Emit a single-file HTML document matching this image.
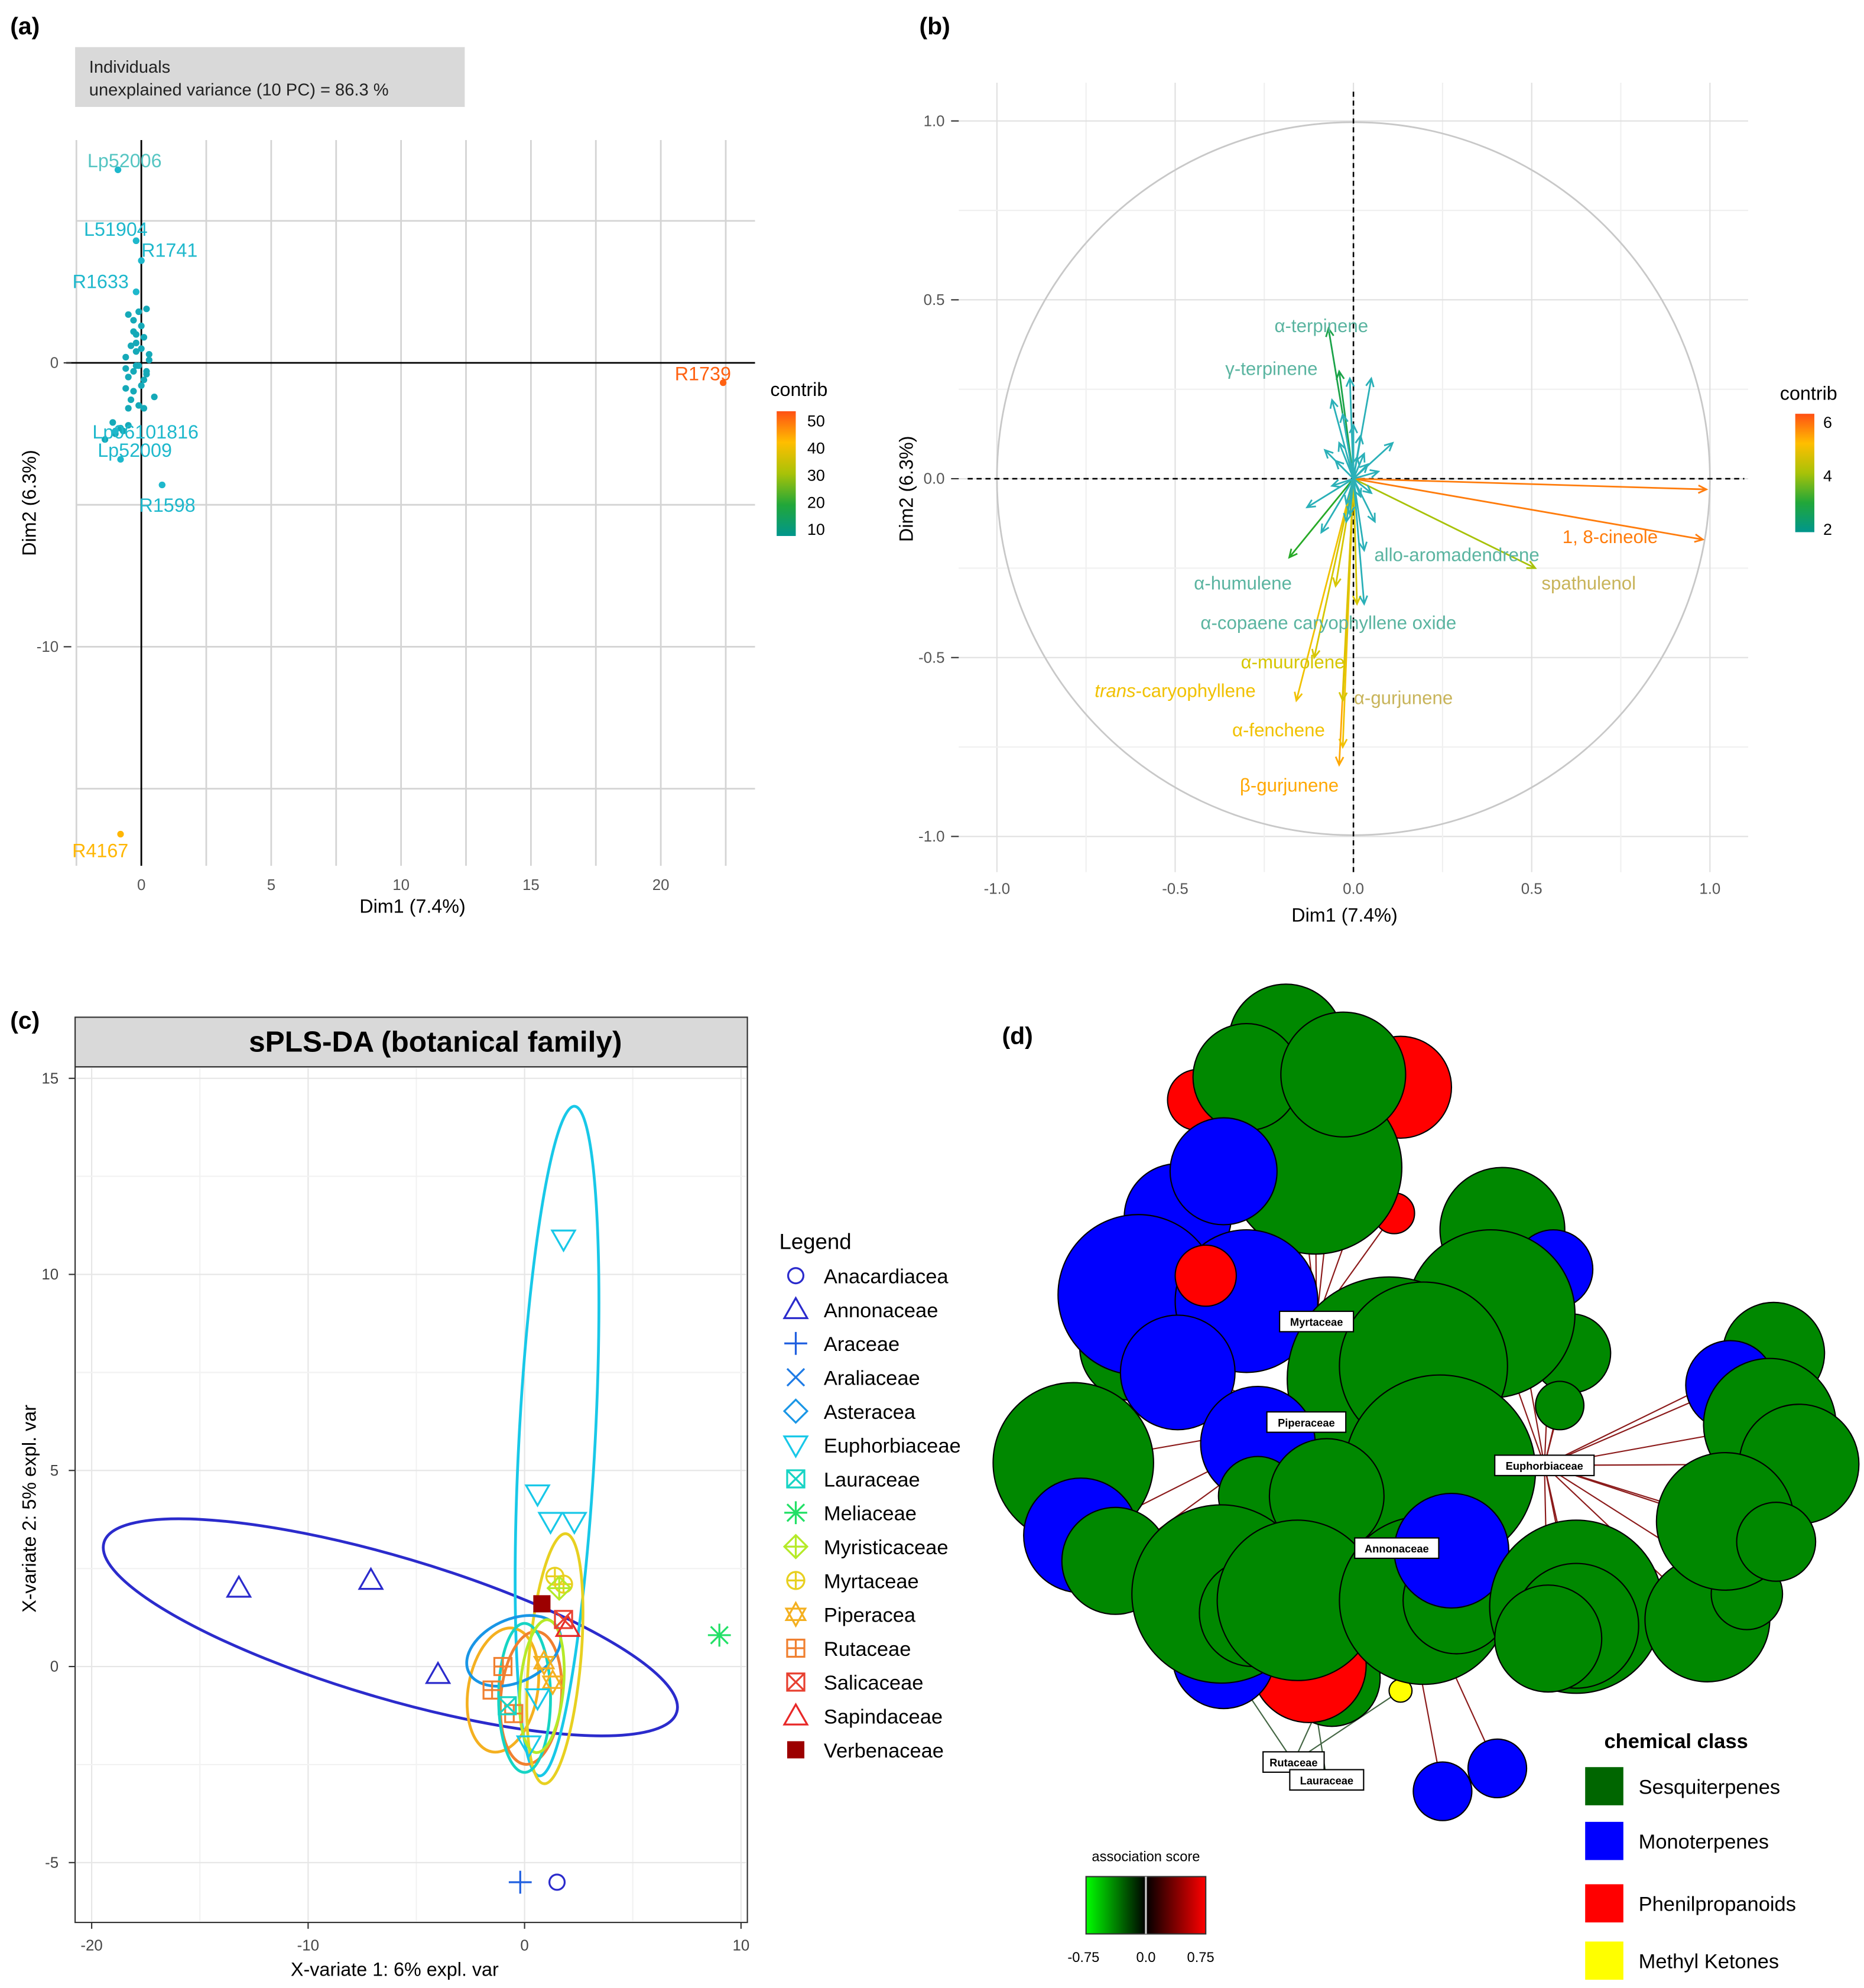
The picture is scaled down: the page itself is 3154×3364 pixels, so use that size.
<!DOCTYPE html>
<html><head><meta charset="utf-8">
<style>
html,body{margin:0;padding:0;background:#fff;}
svg{display:block;font-family:"Liberation Sans",Arial,sans-serif;}
</style></head>
<body>
<svg id="s" xmlns="http://www.w3.org/2000/svg" width="3154" height="3364" viewBox="0 0 1464 1561.5" preserveAspectRatio="none">
<rect width="1464" height="1561.5" fill="#fff"/>
<g id="pa"></g>
<g id="pb"></g>
<g id="pc"></g>
<g id="pd"></g>
</svg>
<script>
// ---------- Panel A data ----------
const aXTicks=[0,5,10,15,20];
const aYTicks=[0,-10];
const aPtX=[-0.9,-0.2,0,-0.2,-0.1,0.2,-0.3,0,-0.5,-0.2,0.1,-0.4,-0.2,0,-0.6,0.3,-0.1,-0.3,-0.5,0.2,-0.6,-0.3,0,0.5,-0.4,-0.1,0.2,-0.5,-0.8,-1.1,-1.0,-1.4,-0.7,-0.5,0.1,-0.2,0.3,-0.3,0.8,0.1,-0.6,-0.2];
const aPtY=[6.8,4.3,3.6,2.5,1.8,1.9,1.5,1.3,1.7,1.0,0.9,0.6,0.4,0.5,0.2,0.1,-0.1,-0.3,-0.5,-0.4,-0.9,-1.0,-0.8,-1.2,-1.3,-1.5,-0.3,-1.6,-2.3,-2.1,-2.5,-2.7,-2.4,-2.2,-1.6,-0.1,0.3,1.1,-4.3,-0.6,-0.2,0.7];
const aLabX=[-0.9,-0.2,0,-0.2,-1,-0.8,0.8,22.4,-0.8];
const aLabY=[6.8,4.3,3.6,2.5,-2.4,-3.4,-4.3,-0.7,-16.6];
const aLabText=["Lp52006","L51904","R1741","R1633","Lp06101816","Lp52009","R1598","R1739","R4167"];
const aLabContrib=[8,5,5,5,5,5,5,50,40];
// ---------- Panel B data ----------
const bArrX=[0.99,0.98,0.51,0.03,-0.07,-0.04,-0.04,-0.03,-0.16,-0.18,-0.11,-0.03,0.01,-0.01,0.05,0.11,0.03,0.06,-0.05,-0.09,0.02,-0.13,-0.02,0.04,-0.06,0.07,-0.03,-0.01,0.02,-0.08,-0.05,0.0,-0.04,0.03,-0.02,0.05,-0.06,0.01];
const bArrY=[-0.03,-0.17,-0.25,-0.2,0.42,0.3,-0.8,-0.75,-0.62,-0.22,-0.5,-0.62,-0.35,0.28,0.28,0.1,-0.35,-0.12,0.05,-0.15,0.12,-0.08,-0.07,0.04,0.22,0.02,0.18,-0.1,-0.05,0.08,-0.3,0.15,0.1,0.07,-0.12,-0.04,-0.02,0.06];
const bArrC=[6,6,4,2,2.5,2.5,5.5,5,5,3,4.5,4.5,4.5,1.5,1.5,1.5,2,1.5,1.5,1.5,1.5,1.5,1.5,1.5,1.5,1.5,1.5,1.5,1.5,1.5,4.5,1.5,1.5,1.5,1.5,1.5,1.5,1.5];
const bLabText=["1, 8-cineole","spathulenol","allo-aromadendrene","α-terpinene","γ-terpinene","β-gurjunene","α-fenchene","trans-caryophyllene","α-humulene","α-copaene caryophyllene oxide","α-muurolene","α-gurjunene"];
const bLabX=[0.72,0.66,0.29,-0.09,-0.23,-0.18,-0.21,-0.5,-0.31,-0.07,-0.17,0.14];
const bLabY=[-0.18,-0.31,-0.23,0.41,0.29,-0.875,-0.72,-0.61,-0.31,-0.42,-0.53,-0.63];
const bLabC=[6,4,2,2,2,5.5,5,5,2,2,4.5,4];
const bTicks=[-1,-0.5,0,0.5,1];
const bTickLab=["-1.0","-0.5","0.0","0.5","1.0"];
// ---------- Panel C data ----------
const cXTicks=[-20,-10,0,10];
const cYTicks=[-5,0,5,10,15];
const cFam=["Anacardiacea","Annonaceae","Araceae","Araliaceae","Asteracea","Euphorbiaceae","Lauraceae","Meliaceae","Myristicaceae","Myrtaceae","Piperacea","Rutaceae","Salicaceae","Sapindaceae","Verbenaceae"];
const cCol=["#2B2BCC","#2B2BCC","#1F5FE0","#1E7BE6","#1996E6","#18C8E8","#16D4C4","#22E066","#B5EA28","#E8D020","#F4B020","#F08030","#E84030","#E82828","#9C0000"];
const cSym=["circle","tri","plus","x","diamond","tridown","sqx","star","cdiam","cplus","hex","sqplus","sqx","tri","sqfill"];
const cPtFam=[1,1,1,5,5,5,5,0,2,7,14,11,11,11,10,10,9,9,8,6,5,5,13,12];
const cPtX=[-13.2,-7.1,-4.0,1.8,0.6,1.2,2.3,1.5,-0.2,9,0.8,-1.0,-1.5,-0.5,0.9,1.3,1.4,1.8,1.6,-0.8,0.6,0.2,2.0,1.8];
const cPtY=[2.0,2.2,-0.2,10.9,4.4,3.7,3.7,-5.5,-5.5,0.8,1.6,0,-0.6,-1.2,0.1,-0.4,2.3,2.1,2.0,-1.0,-0.8,-2.0,1.0,1.2];
const cEllFam=[1,5,10,11,9,4,6,8];
const cEllX=[-6.2,1.5,-1.0,0.3,1.4,-0.5,0.0,0.8];
const cEllY=[1.0,5.75,-0.6,-0.8,0.2,0.4,-0.8,-0.5];
const cEllRx=[13.8,1.76,1.6,1.4,1.2,2.3,1.2,1.0];
const cEllRy=[1.8,8.55,1.6,1.7,3.2,0.8,1.9,1.7];
const cEllRot=[16.5,3,10,5,5,-25,0,5];
// ---------- Panel D data ----------
const dNodeX=[1100,941,1095,1033,1010,979,1055,890,925,961,894,979,925,947,843,849,876,1234,1225,1180,1220,1171,1091,1118,1131,988,988,1042,1046,1100,1028,961,959,984,1019,1118,1144,1140,1238,1238,1216,1393,1359,1390,1413,1341,1372,1355,1395,1133,1176];
const dNodeY=[854,864,953,917,818,846,844,1058,956,920,1017,1022,1078,1002,1149,1206,1226,1063,1104,966,997,1032,1083,1073,1155,1134,1175,1175,1318,1328,1308,1302,1252,1267,1257,1257,1257,1218,1262,1277,1287,1063,1088,1119,1150,1272,1252,1195,1211,1407,1389];
const dNodeR=[40,24,16,68,45,42,49,42,42,42,63,56,45,24,63,45,42,31,19,49,31,66,80,66,75,45,31,45,38,9,45,40,70,42,63,66,42,45,68,49,42,40,35,52,47,49,28,54,31,23,23];
const dNodeT=[2,2,2,0,0,0,0,0,1,1,1,1,1,2,0,1,0,0,0,0,1,0,0,0,0,1,0,0,0,3,2,1,0,0,0,0,0,1,0,0,0,0,1,0,0,0,0,0,0,1,1];
const dNodeHub=[0,0,0,0,0,0,0,1,0,0,0,0,1,0,1,1,1,2,2,2,2,2,3,3,3,1,1,1,4,4,5,4,3,3,3,3,3,3,2,2,2,2,2,2,2,2,2,2,2,3,3];
const dClassName=["Sesquiterpenes","Monoterpenes","Phenilpropanoids","Methyl Ketones"];
const dClassCol=["#008800","#0000FF","#FF0000","#FFFF00"];
const dHubName=["Myrtaceae","Piperaceae","Euphorbiaceae","Annonaceae","Rutaceae","Lauraceae"];
const dHubX=[1034,1026,1213,1097,1016,1042];
const dHubY=[1038,1117,1151,1216,1384,1398];
const dHubW=[58,62,78,66,48,58];

const NS="http://www.w3.org/2000/svg";
function mk(parent,tag,attrs,txt){const e=document.createElementNS(NS,tag);for(const k in attrs)e.setAttribute(k,attrs[k]);if(txt!==undefined)e.textContent=txt;parent.appendChild(e);return e;}
function contribColor(t){
  const stops=[[0,[0,150,140]],[0.3,[40,170,40]],[0.55,[200,200,0]],[0.75,[255,190,0]],[1,[255,80,20]]];
  for(let i=1;i<stops.length;i++){if(t<=stops[i][0]){const a=stops[i-1],b=stops[i];const f=(t-a[0])/(b[0]-a[0]);return "rgb("+a[1].map((v,j)=>Math.round(v+(b[1][j]-v)*f)).join(",")+")";}}
  return "rgb(255,80,20)";
}
const defs=mk(document.getElementById('s'),'defs',{});
const lg=mk(defs,'linearGradient',{id:'cg',x1:0,y1:1,x2:0,y2:0});
[0,0.25,0.5,0.75,1].forEach(t=>mk(lg,'stop',{offset:t,'stop-color':contribColor(t)}));
// ================= PANEL A =================
(function(){
const g=document.getElementById('pa');
const X=v=>111+v*20.4, Y=v=>285-v*22.3;
let e=mk(g,'text',{x:8,y:27,'font-size':19,'font-weight':'bold'},'(a)');

e=mk(g,'rect',{x:59,y:37,width:306,height:47,fill:'#d9d9d9'});

mk(g,'text',{x:70,y:57,'font-size':13.5,fill:'#222'},'Individuals');
mk(g,'text',{x:70,y:75,'font-size':13.5,fill:'#222','xml:space':'preserve'},'unexplained  variance  (10 PC) =    86.3 %');
for(let v=-2.5;v<=22.5;v+=2.5){e=mk(g,'line',{x1:X(v),x2:X(v),y1:110,y2:680,stroke:'#d4d4d4','stroke-width':1.3});}
[5,0,-5,-10,-15].forEach(v=>{e=mk(g,'line',{x1:60,x2:593,y1:Y(v),y2:Y(v),stroke:'#d4d4d4','stroke-width':1.3});});
e=mk(g,'line',{x1:X(0),x2:X(0),y1:110,y2:680,stroke:'#000','stroke-width':1.3});
e=mk(g,'line',{x1:52,x2:593,y1:Y(0),y2:Y(0),stroke:'#000','stroke-width':1.3});
aXTicks.forEach(v=>{e=mk(g,'text',{x:X(v),y:699,'font-size':12,fill:'#555','text-anchor':'middle'},String(v));});
aYTicks.forEach(v=>{e=mk(g,'text',{x:46,y:Y(v)+4,'font-size':12,fill:'#555','text-anchor':'end'},String(v));
 mk(g,'line',{x1:50,x2:56,y1:Y(v),y2:Y(v),stroke:'#333'});});
e=mk(g,'text',{x:324,y:717,'font-size':15,'text-anchor':'middle'},'Dim1 (7.4%)');
e=mk(g,'text',{x:0,y:0,'font-size':15,'text-anchor':'middle',transform:'translate(28,395) rotate(-90)'},'Dim2 (6.3%)');
for(let i=0;i<aPtX.length;i++){e=mk(g,'circle',{cx:X(aPtX[i]),cy:Y(aPtY[i]),r:2.6,fill:'#15A9B8'});}
const off={"Lp52006":[-24,-2],"L51904":[-41,-4],"R1741":[0,-3],"R1633":[-50,-3],"Lp06101816":[-18,6],"Lp52009":[-18,-2],"R1598":[-18,21],"R1739":[-38,-2],"R4167":[-38,18]};
for(let i=0;i<aLabText.length;i++){const c=aLabContrib[i]>30?contribColor(aLabContrib[i]/52):'#1EB8CC';
 e=mk(g,'circle',{cx:X(aLabX[i]),cy:Y(aLabY[i]),r:2.6,fill:c});
 const o=off[aLabText[i]];
 e=mk(g,'text',{x:X(aLabX[i])+o[0],y:Y(aLabY[i])+o[1],'font-size':15,fill:aLabContrib[i]>30?c:(aLabText[i]==='Lp52006'?'#55C5C2':'#1EB8CC')},aLabText[i]);
 }
e=mk(g,'text',{x:605,y:311,'font-size':15},'contrib');
e=mk(g,'rect',{x:610,y:323,width:15,height:98,fill:'url(#cg)'});
[50,40,30,20,10].forEach((v,i)=>{mk(g,'text',{x:634,y:335+i*21.3,'font-size':12.5},String(v));});
})();
// ================= PANEL B =================
(function(){
const g=document.getElementById('pb');
const X=v=>1063+v*280, Y=v=>376-v*281;
let e=mk(g,'text',{x:722,y:27,'font-size':19,'font-weight':'bold'},'(b)');
for(let v=-1;v<=1.01;v+=0.25){const maj=Math.abs(v*2-Math.round(v*2))<1e-6;
 mk(g,'line',{x1:X(v),x2:X(v),y1:65,y2:685,stroke:maj?'#e0e0e0':'#f0f0f0','stroke-width':1});
 mk(g,'line',{x1:753,x2:1373,y1:Y(v),y2:Y(v),stroke:maj?'#e0e0e0':'#f0f0f0','stroke-width':1});}
e=mk(g,'circle',{cx:X(0),cy:Y(0),r:280,fill:'none',stroke:'#c8c8c8','stroke-width':1.3});
mk(g,'line',{x1:X(0),x2:X(0),y1:72,y2:685,stroke:'#000','stroke-dasharray':'4,3','stroke-width':1.2});
mk(g,'line',{x1:760,x2:1370,y1:Y(0),y2:Y(0),stroke:'#000','stroke-dasharray':'4,3','stroke-width':1.2});
bTicks.forEach((v,i)=>{
 e=mk(g,'text',{x:X(v),y:702,'font-size':12,fill:'#555','text-anchor':'middle'},bTickLab[i]);
 e=mk(g,'text',{x:742,y:Y(v)+4,'font-size':12,fill:'#555','text-anchor':'end'},bTickLab[i]);
 mk(g,'line',{x1:747,x2:753,y1:Y(v),y2:Y(v),stroke:'#333'});});
e=mk(g,'text',{x:1056,y:724,'font-size':15,'text-anchor':'middle'},'Dim1 (7.4%)');
e=mk(g,'text',{x:0,y:0,'font-size':15,'text-anchor':'middle',transform:'translate(717,384) rotate(-90)'},'Dim2 (6.3%)');
for(let i=0;i<bArrX.length;i++){const c=bArrC[i]<2.2?'#2AB0B8':contribColor((bArrC[i]-1.5)/5);
 const x2=X(bArrX[i]),y2=Y(bArrY[i]),x1=X(0),y1=Y(0);const a=Math.atan2(y2-y1,x2-x1);
 e=mk(g,'path',{d:`M${x1},${y1}L${x2},${y2}M${x2-7*Math.cos(a-0.45)},${y2-7*Math.sin(a-0.45)}L${x2},${y2}L${x2-7*Math.cos(a+0.45)},${y2-7*Math.sin(a+0.45)}`,stroke:c,'stroke-width':1.3,fill:'none'});
 }
for(let i=0;i<bLabText.length;i++){const c=contribColor((bLabC[i]-1.5)/5);const col=bLabC[i]<3?'#5AB4A0':(bLabC[i]<4.2?'#C8B45A':c);
 e=mk(g,'text',{x:X(bLabX[i]),y:Y(bLabY[i]),'font-size':14.5,fill:col,'text-anchor':'middle'});
 if(bLabText[i].startsWith('trans')){mk(e,'tspan',{'font-style':'italic'},'trans');mk(e,'tspan',{},'-caryophyllene');}else e.textContent=bLabText[i];
 }
e=mk(g,'text',{x:1398,y:314,'font-size':15},'contrib');
e=mk(g,'rect',{x:1410,y:325,width:15,height:93,fill:'url(#cg)'});
[6,4,2].forEach((v,i)=>mk(g,'text',{x:1432,y:336+i*42,'font-size':12.5},String(v)));
})();
// ================= PANEL C =================
(function(){
const g=document.getElementById('pc');
const X=v=>412+v*17, Y=v=>1309-v*30.8;
let e=mk(g,'text',{x:8,y:808,'font-size':19,'font-weight':'bold'},'(c)');
e=mk(g,'rect',{x:59,y:799,width:528,height:39,fill:'#d9d9d9',stroke:'#333'});
e=mk(g,'text',{x:342,y:826,'font-size':23,'font-weight':'bold','text-anchor':'middle'},'sPLS-DA (botanical family)');
mk(g,'rect',{x:59,y:838,width:528,height:672,fill:'#fff',stroke:'#333'});
for(let v=-20;v<=10;v+=5){mk(g,'line',{x1:X(v),x2:X(v),y1:839,y2:1509,stroke:v%10===0?'#e6e6e6':'#f2f2f2'});}
for(let v=-5;v<=15;v+=2.5){mk(g,'line',{x1:60,x2:586,y1:Y(v),y2:Y(v),stroke:v%5===0?'#e6e6e6':'#f2f2f2'});}
cXTicks.forEach(v=>{e=mk(g,'text',{x:X(v),y:1532,'font-size':12,fill:'#444','text-anchor':'middle'},String(v));mk(g,'line',{x1:X(v),x2:X(v),y1:1510,y2:1515,stroke:'#333'});});
cYTicks.forEach(v=>{e=mk(g,'text',{x:46,y:Y(v)+4,'font-size':12,fill:'#444','text-anchor':'end'},String(v));mk(g,'line',{x1:54,x2:59,y1:Y(v),y2:Y(v),stroke:'#333'});});
e=mk(g,'text',{x:310,y:1552,'font-size':15,'text-anchor':'middle'},'X-variate 1: 6% expl. var');
e=mk(g,'text',{x:0,y:0,'font-size':15,'text-anchor':'middle',transform:'translate(28,1185) rotate(-90)'},'X-variate 2: 5% expl. var');
for(let i=0;i<cEllFam.length;i++){
 e=mk(g,'ellipse',{cx:X(cEllX[i]),cy:Y(cEllY[i]),rx:cEllRx[i]*17,ry:cEllRy[i]*30.8,fill:'none',stroke:cCol[cEllFam[i]],'stroke-width':2.2,transform:`rotate(${cEllRot[i]} ${X(cEllX[i])} ${Y(cEllY[i])})`});
 }
function sym(parent,type,x,y,c,s){const sw=1.5;
 switch(type){
 case 'circle':return mk(parent,'circle',{cx:x,cy:y,r:s*0.4,fill:'none',stroke:c,'stroke-width':sw});
 case 'tri':return mk(parent,'path',{d:`M${x},${y-s*0.6}L${x+s*0.6},${y+s*0.45}L${x-s*0.6},${y+s*0.45}Z`,fill:'none',stroke:c,'stroke-width':sw});
 case 'tridown':return mk(parent,'path',{d:`M${x},${y+s*0.6}L${x+s*0.6},${y-s*0.45}L${x-s*0.6},${y-s*0.45}Z`,fill:'none',stroke:c,'stroke-width':sw});
 case 'plus':return mk(parent,'path',{d:`M${x-s*0.6},${y}H${x+s*0.6}M${x},${y-s*0.6}V${y+s*0.6}`,stroke:c,'stroke-width':sw});
 case 'x':return mk(parent,'path',{d:`M${x-s*0.45},${y-s*0.45}L${x+s*0.45},${y+s*0.45}M${x+s*0.45},${y-s*0.45}L${x-s*0.45},${y+s*0.45}`,stroke:c,'stroke-width':sw});
 case 'diamond':return mk(parent,'path',{d:`M${x},${y-s*0.6}L${x+s*0.6},${y}L${x},${y+s*0.6}L${x-s*0.6},${y}Z`,fill:'none',stroke:c,'stroke-width':sw});
 case 'cdiam':return mk(parent,'path',{d:`M${x},${y-s*0.6}L${x+s*0.6},${y}L${x},${y+s*0.6}L${x-s*0.6},${y}ZM${x-s*0.6},${y}H${x+s*0.6}M${x},${y-s*0.6}V${y+s*0.6}`,fill:'none',stroke:c,'stroke-width':sw});
 case 'sqx':return mk(parent,'path',{d:`M${x-s*0.45},${y-s*0.45}h${s*0.9}v${s*0.9}h${-s*0.9}ZL${x+s*0.45},${y+s*0.45}M${x+s*0.45},${y-s*0.45}L${x-s*0.45},${y+s*0.45}`,fill:'none',stroke:c,'stroke-width':sw});
 case 'sqplus':return mk(parent,'path',{d:`M${x-s*0.45},${y-s*0.45}h${s*0.9}v${s*0.9}h${-s*0.9}ZM${x-s*0.45},${y}H${x+s*0.45}M${x},${y-s*0.45}V${y+s*0.45}`,fill:'none',stroke:c,'stroke-width':sw});
 case 'star':return mk(parent,'path',{d:`M${x-s*0.6},${y}H${x+s*0.6}M${x},${y-s*0.6}V${y+s*0.6}M${x-s*0.45},${y-s*0.45}L${x+s*0.45},${y+s*0.45}M${x+s*0.45},${y-s*0.45}L${x-s*0.45},${y+s*0.45}`,stroke:c,'stroke-width':sw});
 case 'cplus':return mk(parent,'path',{d:`M${x+s*0.45},${y}A${s*0.45},${s*0.45} 0 1 1 ${x+s*0.45},${y-0.01}ZM${x-s*0.45},${y}H${x+s*0.45}M${x},${y-s*0.45}V${y+s*0.45}`,fill:'none',stroke:c,'stroke-width':sw});
 case 'hex':return mk(parent,'path',{d:`M${x},${y-s*0.6}L${x+s*0.5},${y+s*0.3}L${x-s*0.5},${y+s*0.3}ZM${x},${y+s*0.6}L${x+s*0.5},${y-s*0.3}L${x-s*0.5},${y-s*0.3}Z`,fill:'none',stroke:c,'stroke-width':sw});
 case 'sqfill':return mk(parent,'rect',{x:x-s*0.45,y:y-s*0.45,width:s*0.9,height:s*0.9,fill:c});
 }}
for(let i=0;i<cPtX.length;i++){const f=cPtFam[i];e=sym(g,cSym[f],X(cPtX[i]),Y(cPtY[i]),cCol[f],15);}
e=mk(g,'text',{x:612,y:981,'font-size':17},'Legend');
for(let i=0;i<cFam.length;i++){const yy=1002+i*26.6;
 e=sym(g,cSym[i],625,yy,cCol[i],15);
 e=mk(g,'text',{x:647,y:yy+6,'font-size':16},cFam[i]);}
})();
// ================= PANEL D =================
(function(){
const g=document.getElementById('pd');
let e=mk(g,'text',{x:787,y:820,'font-size':19,'font-weight':'bold'},'(d)');
for(let i=0;i<dNodeX.length;i++){const h=dNodeHub[i];
 e=mk(g,'line',{x1:dHubX[h],y1:dHubY[h],x2:dNodeX[i],y2:dNodeY[i],stroke:h>=4?'#446644':'#8B1A1A','stroke-width':1});
 }
for(let i=0;i<dNodeX.length;i++){
 e=mk(g,'circle',{cx:dNodeX[i],cy:dNodeY[i],r:dNodeR[i],fill:dClassCol[dNodeT[i]],stroke:'#000','stroke-width':1});
 }
for(let h=0;h<dHubName.length;h++){
 e=mk(g,'rect',{x:dHubX[h]-dHubW[h]/2,y:dHubY[h]-8,width:dHubW[h],height:16,fill:'#fff',stroke:'#000','stroke-width':1});
 
 mk(g,'text',{x:dHubX[h],y:dHubY[h]+3.5,'font-size':8.5,'font-weight':'bold','text-anchor':'middle'},dHubName[h]);}
e=mk(g,'text',{x:1260,y:1373,'font-size':16,'font-weight':'bold'},'chemical class');
const ly=[1403,1446,1495,1540];
for(let i=0;i<4;i++){
 e=mk(g,'rect',{x:1245,y:ly[i]-15,width:30,height:30,fill:i===0?'#006600':dClassCol[i]});
 e=mk(g,'text',{x:1287,y:ly[i]+6,'font-size':16},dClassName[i]);}
const ag=mk(defs,'linearGradient',{id:'ag',x1:0,y1:0,x2:1,y2:0});
mk(ag,'stop',{offset:0,'stop-color':'#00ff00'});mk(ag,'stop',{offset:0.5,'stop-color':'#000'});mk(ag,'stop',{offset:1,'stop-color':'#ff0000'});
e=mk(g,'text',{x:900,y:1462,'font-size':11,'text-anchor':'middle'},'association score');
e=mk(g,'rect',{x:853,y:1474,width:94,height:45,fill:'url(#ag)',stroke:'#333'});
mk(g,'line',{x1:900,x2:900,y1:1474,y2:1519,stroke:'#ccc','stroke-width':1.5});
[['-0.75',851],['0.0',900],['0.75',943]].forEach(t=>mk(g,'text',{x:t[1],y:1541,'font-size':11,'text-anchor':'middle'},t[0]));
})();
</script>
</body></html>
